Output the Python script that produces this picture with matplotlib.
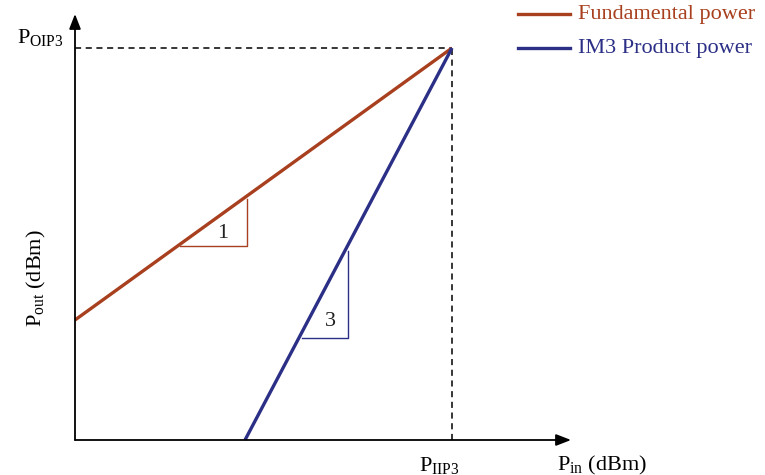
import matplotlib
matplotlib.use("Agg")
import matplotlib.pyplot as plt

plt.rcParams['font.family'] = ['Liberation Serif', 'DejaVu Serif']
plt.rcParams['mathtext.fontset'] = 'custom'
plt.rcParams['mathtext.rm'] = 'Liberation Serif'
plt.rcParams['mathtext.it'] = 'Liberation Serif:italic'

# Schematic data (units: arbitrary dB scale, origin at axes corner)
p_iip3 = 377
p_oip3 = 392
fund_x = [0, p_iip3]
fund_y = [120, p_oip3]
im3_x = [170, p_iip3]
im3_y = [0, p_oip3]
# slope triangles: (x_left, x_right, y_bottom, y_top)
tri1 = (105, 172, 194, 241)
tri3 = (227, 273, 102, 189)
legend_labels = ["Fundamental power", "IM3 Product power"]

RED = "#A8401F"
BLUE = "#2B2F86"

fig = plt.figure(figsize=(7.65, 4.75), dpi=100)
ax = fig.add_axes([0, 0, 1, 1])
ax.set_xlim(-75, 690)
ax.set_ylim(-35, 440)
ax.axis('off')

# axes with arrows
ax.annotate('', xy=(496, 0), xytext=(0, 0),
            arrowprops=dict(arrowstyle='-|>,head_length=0.9,head_width=0.35', color='black', lw=1.3, shrinkA=0, shrinkB=0))
ax.annotate('', xy=(0, 426), xytext=(0, 0),
            arrowprops=dict(arrowstyle='-|>,head_length=0.9,head_width=0.35', color='black', lw=1.3, shrinkA=0, shrinkB=0))

# dashed reference lines
ax.plot([0, p_iip3], [p_oip3, p_oip3], color='black', lw=1.1, ls=(0, (4, 3)))
ax.plot([p_iip3, p_iip3], [0, p_oip3], color='black', lw=1.1, ls=(0, (4, 3)))

# main lines
ax.plot(fund_x, fund_y, color=RED, lw=2.4, solid_capstyle='butt')
ax.plot(im3_x, im3_y, color=BLUE, lw=2.4, solid_capstyle='butt')

# slope triangles
for (xl, xr, yb, yt), c in [(tri1, RED), (tri3, BLUE)]:
    ax.plot([xl, xr, xr], [yb, yb, yt], color=c, lw=1.0)
ax.text(148, 207, '1', fontsize=16, ha='center', va='center', color='#222222')
ax.text(255, 118, '3', fontsize=16, ha='center', va='center', color='#222222')

# labels
ax.text(-58, 403, r'$\mathrm{P}_{\mathrm{OIP3}}$', fontsize=16, ha='left', va='center')
ax.text(364, -25, r'$\mathrm{P}_{\mathrm{IIP3}}$', fontsize=16, ha='center', va='center')
ax.text(482, -25, r'$\mathrm{P}_{\mathrm{in}}$ (dBm)', fontsize=16, ha='left', va='center')
ax.text(-39, 162, r'$\mathrm{P}_{\mathrm{out}}$ (dBm)', fontsize=16, ha='center', va='center', rotation=90)

# legend
ax.plot([443, 495], [426, 426], color=RED, lw=2.4)
ax.text(503, 425, legend_labels[0], fontsize=16, color=RED, ha='left', va='center')
ax.plot([443, 495], [392, 392], color=BLUE, lw=2.4)
ax.text(503, 392, legend_labels[1], fontsize=16, color=BLUE, ha='left', va='center')

fig.savefig('out.png', dpi=100)
